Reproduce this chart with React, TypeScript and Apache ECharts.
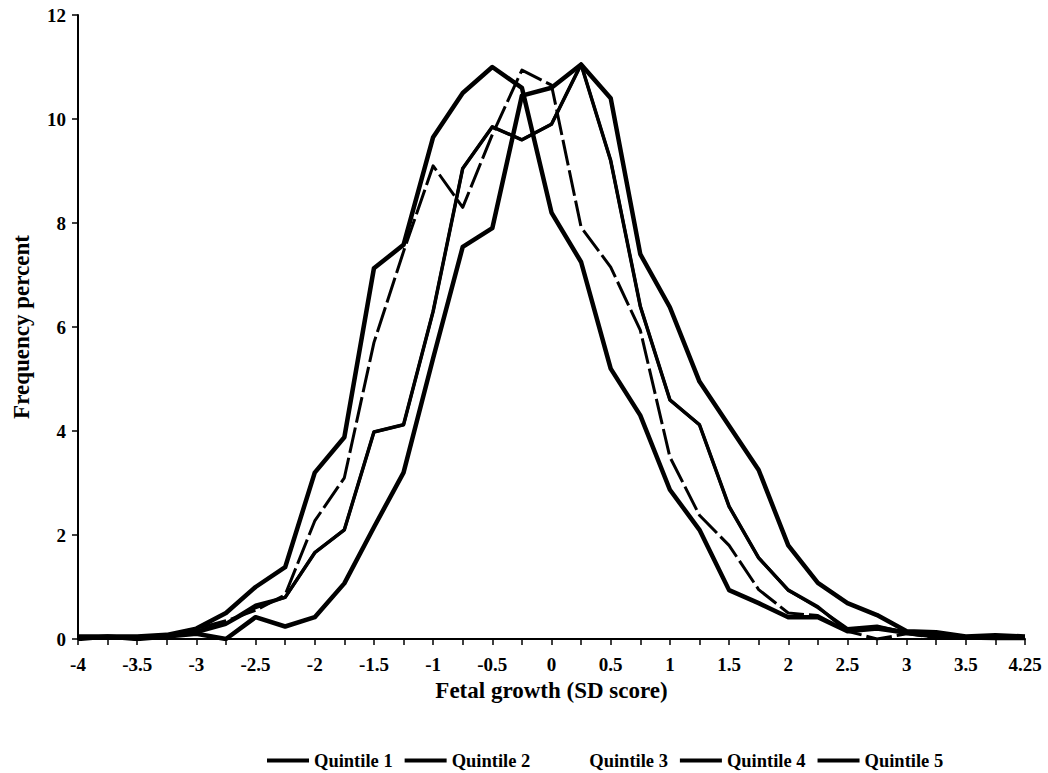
import React, { useEffect, useRef } from "react";
import * as echarts from "echarts";

const categories = ["-4","-3.75","-3.5","-3.25","-3","-2.75","-2.5","-2.25","-2","-1.75","-1.5","-1.25","-1","-0.75","-0.5","-0.25","0","0.25","0.5","0.75","1","1.25","1.5","1.75","2","2.25","2.5","2.75","3","3.25","3.5","3.75","4.25"];

const quintile1 = [0.05,0.05,0.05,0.08,0.2,0.5,1.0,1.38,3.2,3.88,7.13,7.58,9.65,10.5,11.0,10.6,8.2,7.25,5.2,4.3,2.87,2.1,0.94,0.69,0.42,0.42,0.15,0.2,0.12,0.05,0.03,0.02,0.02];
const quintile2 = [0.03,0.02,0.03,0.06,0.15,0.3,0.65,0.8,1.66,2.1,3.98,4.12,6.3,9.05,9.85,9.6,9.9,11.05,9.2,6.4,4.6,4.12,2.55,1.56,0.94,0.62,0.15,0.23,0.13,0.1,0.02,0.05,0.03];
const quintile3 = [0.05,0.04,0.05,0.07,0.2,0.35,0.55,0.85,2.27,3.1,5.7,7.45,9.1,8.3,9.7,10.94,10.65,7.92,7.15,5.94,3.5,2.38,1.8,0.95,0.5,0.45,0.15,0.0,0.1,0.03,0.05,0.02,0.05];
const quintile4 = [0.02,0.05,0.02,0.05,0.12,0.28,0.6,0.8,1.66,2.1,3.98,4.12,6.3,9.05,9.85,9.6,9.9,11.05,9.2,6.4,4.6,4.12,2.55,1.56,0.94,0.6,0.2,0.25,0.12,0.08,0.04,0.03,0.04];
const quintile5 = [0.0,0.05,0.0,0.05,0.1,0.0,0.42,0.24,0.42,1.07,2.15,3.2,5.4,7.54,7.9,10.45,10.6,11.05,10.4,7.4,6.38,4.95,4.1,3.25,1.8,1.08,0.69,0.46,0.15,0.13,0.05,0.07,0.05];

const seriesNames = ["Quintile 1","Quintile 2","Quintile 3","Quintile 4","Quintile 5"];

const FONT = "'Liberation Serif', 'Times New Roman', serif";

export default function App() {
  const ref = useRef<HTMLDivElement>(null);
  useEffect(() => {
    if (!ref.current) return;
    const chart = echarts.init(ref.current, null, { renderer: "svg" });
    const mk = (name: string, data: number[], width: number, dashed?: boolean) => ({
      name,
      type: "line",
      data,
      symbol: "none",
      smooth: false,
      lineStyle: { color: "#000", width, type: dashed ? [26, 5] : "solid", cap: "butt", join: "round" },
      itemStyle: { color: "#000" },
    });
    chart.setOption({
      animation: false,
      backgroundColor: "#fff",
      textStyle: { fontFamily: FONT, color: "#000" },
      grid: { left: 78, right: 23, top: 15, bottom: 134, containLabel: false },
      legend: {
        top: 746,
        left: 262,
        itemWidth: 42,
        itemHeight: 4,
        itemGap: 12,
        icon: "rect",
        textStyle: { fontFamily: FONT, fontWeight: "bold", fontSize: 18.5, color: "#000" },
        data: seriesNames.map((n) => (n === "Quintile 3" ? { name: n, itemStyle: { opacity: 0 } } : { name: n })),
      },
      xAxis: {
        type: "category",
        data: categories,
        boundaryGap: false,
        name: "Fetal growth (SD score)",
        nameLocation: "middle",
        nameGap: 33,
        nameTextStyle: { fontFamily: FONT, fontWeight: "bold", fontSize: 23, color: "#000" },
        axisLine: { lineStyle: { color: "#000", width: 2 } },
        axisTick: { show: true, interval: 0, length: 6, lineStyle: { color: "#000", width: 1.5 } },
        axisLabel: { interval: 1, margin: 16, fontFamily: FONT, fontWeight: "bold", fontSize: 19, color: "#000" },
        splitLine: { show: false },
      },
      yAxis: {
        type: "value",
        min: 0,
        max: 12,
        interval: 2,
        name: "Frequency percent",
        nameLocation: "middle",
        nameGap: 45,
        nameRotate: 90,
        nameTextStyle: { fontFamily: FONT, fontWeight: "bold", fontSize: 23, color: "#000" },
        axisLine: { show: true, lineStyle: { color: "#000", width: 2 } },
        axisTick: { show: true, length: 6, lineStyle: { color: "#000", width: 1.5 } },
        axisLabel: { margin: 12, fontFamily: FONT, fontWeight: "bold", fontSize: 19, color: "#000" },
        splitLine: { show: false },
      },
      series: [
        mk("Quintile 1", quintile1, 4.5),
        mk("Quintile 2", quintile2, 3.5),
        mk("Quintile 3", quintile3, 3, true),
        mk("Quintile 4", quintile4, 3),
        mk("Quintile 5", quintile5, 4.5),
      ],
    });
    return () => chart.dispose();
  }, []);
  return <div ref={ref} style={{ position: "fixed", left: 0, top: 0, width: 1048, height: 773, background: "#fff" }} />;
}
